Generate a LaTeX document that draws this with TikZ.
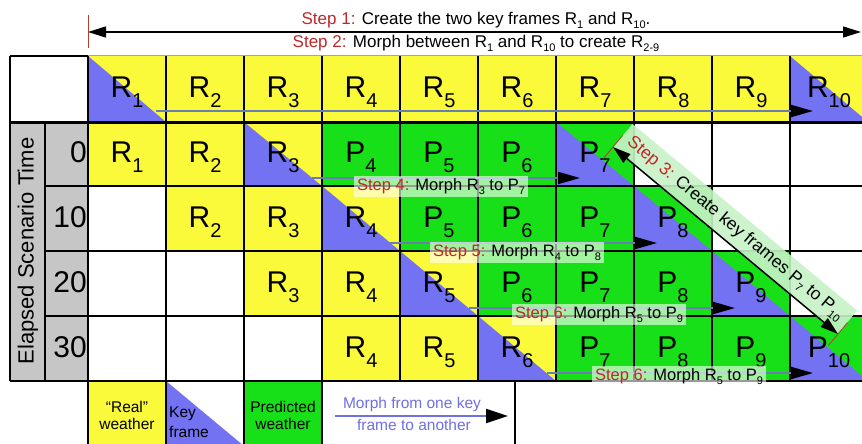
\documentclass[tikz,border=0pt]{standalone}
\usepackage{fontspec}
\setmainfont{Liberation Sans}
\usetikzlibrary{arrows.meta,calc}
\definecolor{cyel}{HTML}{FAFA3A}
\definecolor{cgrn}{HTML}{18E018}
\definecolor{cblu}{HTML}{7272F2}
\definecolor{cgry}{HTML}{C6C6C6}
\definecolor{cred}{HTML}{C02828}
\definecolor{cmorph}{HTML}{6A7DB4}
\definecolor{clegend}{HTML}{7070E0}
\definecolor{cband}{HTML}{C8F2C8}
\definecolor{ctick}{HTML}{B04030}
\newcommand{\cl}[2]{{\fontsize{30}{30}\selectfont #1\raisebox{-10pt}{\fontsize{20}{20}\selectfont #2}}}
\newcommand{\sbx}[1]{\raisebox{-4pt}{\fontsize{11}{11}\selectfont #1}}
\newcommand{\stp}[1]{\textcolor{cred}{Step #1:}}
\begin{document}
\begin{tikzpicture}[x=1pt,y=-1pt,
  gl/.style={line width=1.1pt, black},
  lbl/.style={anchor=base, inner sep=0pt},
  morph/.style={draw=cmorph, line width=1.8pt, -{Triangle[length=22pt,width=12pt,color=black]}},
  steplbl/.style={anchor=base, fill=white, fill opacity=0.6, text opacity=1, inner xsep=3pt, inner ysep=2.5pt, font=\fontsize{16.5}{18}\selectfont},
  band/.style={fill=cband, fill opacity=0.9, text opacity=1, minimum width=292pt, minimum height=30pt, inner sep=0pt, font=\fontsize{17.5}{19}\selectfont},
  legtxt/.style={anchor=base, inner sep=0pt, font=\fontsize{15.5}{17}\selectfont},
  bigarrow/.style={line width=1.5pt, {Triangle[length=18pt,width=11pt]}-{Triangle[length=18pt,width=11pt]}},
  redtick/.style={draw=ctick, line width=0.8pt}
]
\useasboundingbox (0,0) rectangle (862,444);
\clip (0,0) rectangle (862,444);
\fill[white] (0,0) rectangle (862,444);

% header fills
\fill[cyel] (88,56) rectangle (868,122);
\fill[cblu] (88,56) -- (88,122) -- (166,122) -- cycle;
\fill[cblu] (790,56) -- (790,122) -- (868,122) -- cycle;

% left gray columns
\fill[cgry] (10,122) rectangle (88,381);

% body fills
\foreach \r/\t/\b in {0/122/186,1/186/251,2/251/316,3/316/381}{
  \foreach \k in {1,2,3}{
    \pgfmathtruncatemacro{\c}{\r+\k}
    \fill[cyel] ({10+78*\c},\t) rectangle ({88+78*\c},\b);
  }
  \foreach \k in {4,5,6,7}{
    \pgfmathtruncatemacro{\c}{\r+\k}
    \fill[cgrn] ({10+78*\c},\t) rectangle ({88+78*\c},\b);
  }
  \pgfmathtruncatemacro{\ka}{\r+3}
  \pgfmathtruncatemacro{\kb}{\r+7}
  \fill[cblu] ({10+78*\ka},\t) -- ({10+78*\ka},\b) -- ({88+78*\ka},\b) -- cycle;
  \fill[cblu] ({10+78*\kb},\t) -- ({10+78*\kb},\b) -- ({88+78*\kb},\b) -- cycle;
}

% legend fills
\fill[cyel] (88,381) rectangle (166,446);
\fill[cblu] (166,381) -- (166,446) -- (244,446) -- cycle;
\fill[cgrn] (244,381) rectangle (322,446);

% grid lines
\draw[gl] (10,56) -- (88,56);
\draw[line width=1pt, gray!70] (88,56) -- (868,56);
\draw[gl] (10,56) -- (10,381);
\draw[gl] (45,122) -- (45,381);
\foreach \x in {88,166,244,322,400,478,556,634,712,790}{
  \draw[gl] (\x,56) -- (\x,381);
}
\foreach \y in {186,251,316}{
  \draw[gl] (45,\y) -- (868,\y);
}
\draw[gl] (10,381) -- (868,381);
\draw[line width=3pt] (10,122) -- (868,122);
\foreach \x in {88,166,244,322,515}{
  \draw[gl] (\x,381) -- (\x,446);
}

% header labels
\foreach \c in {1,...,10}{
  \node[lbl] (h\c) at ({49+78*\c},97.5) {\cl{R}{\c}};
}
% body labels
\foreach \r/\t/\b in {0/122/186,1/186/251,2/251/316,3/316/381}{
  \pgfmathsetmacro{\yb}{(\t+\b)/2+8.5}
  \foreach \k in {1,2,3}{
    \pgfmathtruncatemacro{\c}{\r+\k}
    \node[lbl] (r\r c\c) at ({49+78*\c},\yb) {\cl{R}{\c}};
  }
  \foreach \k in {4,5,6,7}{
    \pgfmathtruncatemacro{\c}{\r+\k}
    \node[lbl] (r\r c\c) at ({49+78*\c},\yb) {\cl{P}{\c}};
  }
}
% time labels
\foreach \r/\y/\v in {0/162.5/0,1/227/10,2/292/20,3/357/30}{
  \node[anchor=base east, inner sep=0pt, font=\fontsize{30}{30}\selectfont] (t\r) at (87,\y) {\v};
}
\node[rotate=90, font=\fontsize{22}{24}\selectfont] (elapsed) at (28,251) {Elapsed Scenario Time};

% top annotation
\coordinate (a1) at (88,32);
\coordinate (a2) at (861,32);
\draw[bigarrow] (a1) -- (a2);
\draw[redtick] (88,15) -- (88,48);
\node[anchor=base, inner sep=0pt, font=\fontsize{17}{19}\selectfont] (s1) at (476,25) {\stp{1} Create the two key frames R\sbx{1} and R\sbx{10}.};
\node[anchor=base, inner sep=0pt, font=\fontsize{17}{19}\selectfont] (s2) at (476,48) {\stp{2} Morph between R\sbx{1} and R\sbx{10} to create R\sbx{2-9}};

% morph arrows
\coordinate (m2a) at (156,111); \coordinate (m2b) at (813,111);
\coordinate (m4a) at (312,178); \coordinate (m4b) at (580,178);
\coordinate (m5a) at (390,243); \coordinate (m5b) at (657,243);
\coordinate (m6a) at (469,308); \coordinate (m6b) at (735,308);
\coordinate (m7a) at (547,373); \coordinate (m7b) at (813,373);
\draw[morph] (m2a) -- (m2b);
\draw[morph] (m4a) -- (m4b);
\draw[morph] (m5a) -- (m5b);
\draw[morph] (m6a) -- (m6b);
\draw[morph] (m7a) -- (m7b);

\node[steplbl] (l4) at (441,190) {\stp{4} Morph R\sbx{3} to P\sbx{7}};
\node[steplbl] (l5) at (517,256) {\stp{5} Morph R\sbx{4} to P\sbx{8}};
\node[steplbl] (l6) at (599,318) {\stp{6} Morph R\sbx{5} to P\sbx{9}};
\node[steplbl] (l7) at (679,380) {\stp{6} Morph R\sbx{5} to P\sbx{9}};

% step 3 diagonal
\coordinate (s3a) at (613,147);
\coordinate (s3b) at (838,334);
\node[band, rotate=-39.73, anchor=south] (s3lbl) at ($(s3a)!0.5!(s3b)$) {\stp{3} Create key frames P\sbx{7} to P\sbx{10}};
\draw[bigarrow] (s3a) -- (s3b);
\draw[redtick] ($(s3a)+(-9.6,11.5)$) -- ($(s3a)+(9.6,-11.5)$);
\draw[redtick] ($(s3b)+(-9.6,11.5)$) -- ($(s3b)+(9.6,-11.5)$);

% legend
\node[legtxt] (lg1) at (127,412) {“Real”};
\node[legtxt] (lg2) at (127,429) {weather};
\node[legtxt, anchor=base west] (lg3) at (169,417) {Key};
\node[legtxt, anchor=base west] (lg4) at (169,437) {frame};
\node[legtxt] (lg5) at (283,412) {Predicted};
\node[legtxt] (lg6) at (283,429) {weather};
\node[legtxt, text=clegend] (lg7) at (412,408) {Morph from one key};
\node[legtxt, text=clegend] (lg8) at (414,430) {frame to another};
\coordinate (lga) at (335,416); \coordinate (lgb) at (508,416);
\draw[draw=clegend, line width=1.8pt, -{Triangle[length=22pt,width=14pt,color=black]}] (lga) -- (lgb);
\end{tikzpicture}
\end{document}
